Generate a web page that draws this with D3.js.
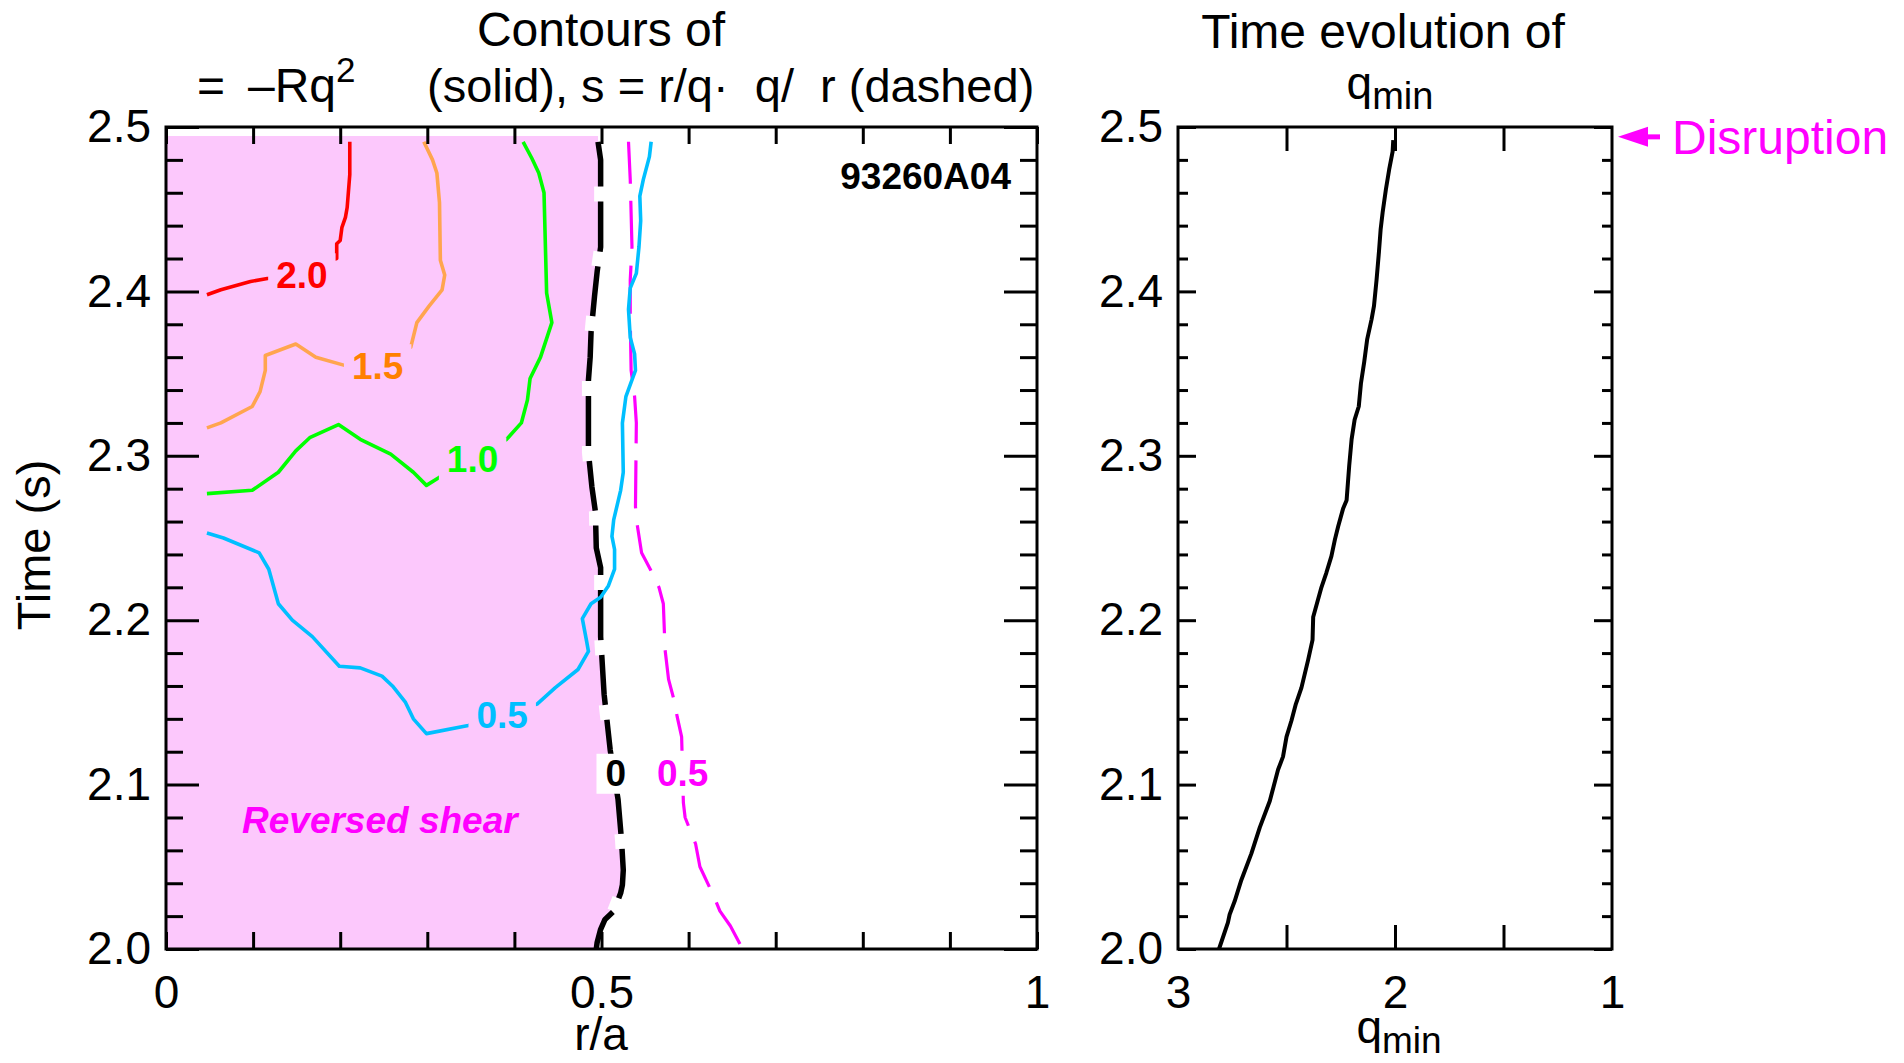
<!DOCTYPE html>
<html>
<head>
<meta charset="utf-8">
<script src="https://cdn.jsdelivr.net/npm/d3@7"></script>
<style>
  html, body { margin: 0; padding: 0; background: #fff; }
  svg text { font-family: "Liberation Sans", Arial, Helvetica, sans-serif; }
</style>
</head>
<body>
<svg id="chart" width="1904" height="1063"></svg>
<script>
// ---- tick labels ----
const timeTicks = [2.0, 2.1, 2.2, 2.3, 2.4, 2.5];
const radiusTicks = [0, 0.5, 1];
const qminTicks = [3, 2, 1];
const qminMinorTicks = [2.5, 2, 1.5];

// ---- alpha contours, [r/a, time] ----
const alpha20 = [[0.047,2.398],[0.063,2.401],[0.097,2.406],[0.118,2.408],[0.196,2.420],[0.196,2.429],[0.200,2.431],[0.202,2.439],[0.206,2.445],[0.208,2.451],[0.211,2.471],[0.211,2.491]];
const alpha15 = [[0.047,2.317],[0.063,2.320],[0.099,2.330],[0.108,2.339],[0.114,2.352],[0.114,2.361],[0.149,2.368],[0.172,2.360],[0.205,2.355],[0.281,2.366],[0.288,2.381],[0.302,2.391],[0.317,2.401],[0.320,2.410],[0.315,2.419],[0.314,2.454],[0.311,2.472],[0.306,2.480],[0.296,2.491]];
const alpha10 = [[0.047,2.277],[0.099,2.279],[0.129,2.290],[0.149,2.303],[0.165,2.311],[0.198,2.319],[0.223,2.310],[0.258,2.301],[0.284,2.290],[0.299,2.282],[0.314,2.287],[0.391,2.310],[0.408,2.320],[0.415,2.334],[0.418,2.347],[0.430,2.360],[0.443,2.381],[0.437,2.399],[0.434,2.460],[0.428,2.472],[0.420,2.481],[0.410,2.491]];
const alpha05 = [[0.047,2.253],[0.066,2.250],[0.107,2.241],[0.118,2.231],[0.129,2.210],[0.145,2.200],[0.168,2.190],[0.199,2.172],[0.223,2.171],[0.248,2.166],[0.260,2.160],[0.275,2.150],[0.284,2.140],[0.299,2.131],[0.347,2.136],[0.426,2.149],[0.447,2.159],[0.473,2.170],[0.485,2.181],[0.483,2.187],[0.478,2.201],[0.488,2.210],[0.499,2.214],[0.508,2.221],[0.515,2.231],[0.515,2.243],[0.512,2.251],[0.514,2.261],[0.522,2.279],[0.525,2.290],[0.524,2.320],[0.528,2.336],[0.539,2.352],[0.538,2.362],[0.533,2.372],[0.531,2.389],[0.533,2.402],[0.540,2.411],[0.543,2.427],[0.545,2.443],[0.544,2.458],[0.548,2.468],[0.555,2.482],[0.557,2.491]];

// ---- magnetic shear contours, [r/a, time], listed from the top down ----
const shear0 = [[0.496,2.491],[0.499,2.480],[0.499,2.427],[0.495,2.412],[0.492,2.397],[0.488,2.375],[0.487,2.360],[0.485,2.346],[0.485,2.302],[0.489,2.281],[0.493,2.266],[0.494,2.244],[0.499,2.232],[0.499,2.190],[0.503,2.155],[0.510,2.121],[0.519,2.091],[0.523,2.066],[0.525,2.048],[0.524,2.039],[0.522,2.034],[0.514,2.023],[0.504,2.018],[0.499,2.012],[0.495,2.004],[0.494,2.000]];
const shear05 = [[0.531,2.491],[0.533,2.468],[0.535,2.427],[0.533,2.407],[0.533,2.383],[0.534,2.352],[0.538,2.336],[0.540,2.320],[0.539,2.269],[0.541,2.258],[0.546,2.241],[0.556,2.231],[0.566,2.220],[0.571,2.210],[0.573,2.182],[0.577,2.164],[0.583,2.152],[0.587,2.141],[0.592,2.129],[0.594,2.089],[0.596,2.080],[0.608,2.064],[0.613,2.050],[0.629,2.032],[0.636,2.023],[0.648,2.014],[0.662,2.000]];
const reversedShearTop = 2.4945;

// ---- contour labels: text, r/a, time ----
const alphaLabels = [
  {text: "2.0", r: 0.156, t: 2.410, color: "#ff0000"},
  {text: "1.5", r: 0.243, t: 2.3547, color: "#ff8000"},
  {text: "1.0", r: 0.352, t: 2.298, color: "#00ff00"},
  {text: "0.5", r: 0.386, t: 2.1423, color: "#00bfff"}
];
const shearLabels = [
  {text: "0", r: 0.5164, t: 2.1074, color: "#000000", box: true},
  {text: "0.5", r: 0.5932, t: 2.1074, color: "#ff00ff", box: false}
];

// ---- q_min time history ----
const qminTime  = [2.000,2.016,2.021,2.029,2.042,2.058,2.074,2.090,2.109,2.117,2.129,2.139,2.149,2.159,2.176,2.188,2.202,2.220,2.229,2.239,2.249,2.257,2.268,2.273,2.294,2.310,2.322,2.330,2.344,2.357,2.371,2.383,2.391,2.407,2.424,2.438,2.448,2.462,2.474,2.485,2.492];
const qminValue = [2.811,2.770,2.762,2.739,2.708,2.662,2.623,2.577,2.539,2.516,2.500,2.477,2.457,2.431,2.400,2.380,2.377,2.339,2.316,2.293,2.277,2.262,2.239,2.223,2.211,2.200,2.186,2.167,2.157,2.142,2.128,2.108,2.097,2.085,2.074,2.066,2.057,2.042,2.027,2.011,2.008];
const disruptionTime = 2.494;

// ---- layout ----
const W = 1904, H = 1063;
const FONT = '"Liberation Sans", Arial, Helvetica, sans-serif';
const svg = d3.select("#chart");

const x = d3.scaleLinear().domain([0, 1]).range([166, 1037]);
const y = d3.scaleLinear().domain([2.0, 2.5]).range([949, 127]);
const xq = d3.scaleLinear().domain([3, 1]).range([1178, 1612]);

const minorTimes = d3.range(2.0, 2.5001, 0.02).map(v => +v.toFixed(2));
const minorRadii = d3.range(0, 1.0001, 0.1).map(v => +v.toFixed(1));

// label gap mask for the contour lines
const defs = svg.append("defs");
const gapMask = defs.append("mask").attr("id", "label-gaps")
  .attr("maskUnits", "userSpaceOnUse")
  .attr("x", 0).attr("y", 0).attr("width", W).attr("height", H);
gapMask.append("rect").attr("width", W).attr("height", H).attr("fill", "white");

const gPink = svg.append("g");
const gShear = svg.append("g");
const gAlpha = svg.append("g").attr("mask", "url(#label-gaps)");
const gQmin = svg.append("g");
const gLabels = svg.append("g");
const gAxes = svg.append("g");
const gText = svg.append("g");

const line = d3.line().x(d => x(d[0])).y(d => y(d[1]));

// reversed shear region: from the axis to the s = 0 contour
const pinkPoly = [[0, reversedShearTop], [shear0[0][0], reversedShearTop], ...shear0, [0, 2.0]];
gPink.append("path")
  .attr("d", line(pinkPoly) + "Z")
  .attr("fill", "#fcc8fc");

// s = 0 contour: white breaks under black dashes
gShear.append("path")
  .attr("d", line(shear0))
  .attr("fill", "none").attr("stroke", "#fff")
  .attr("stroke-width", 13)
  .attr("stroke-dasharray", "15 50").attr("stroke-dashoffset", 20);
gShear.append("path")
  .attr("d", line(shear0))
  .attr("fill", "none").attr("stroke", "#000")
  .attr("stroke-width", 5.5).attr("stroke-linejoin", "round")
  .attr("stroke-dasharray", "50 15").attr("stroke-dashoffset", 5);

// s = 0.5 contour
gAlpha.append("path")
  .attr("d", line(shear05))
  .attr("fill", "none").attr("stroke", "#ff00ff")
  .attr("stroke-width", 3.2).attr("stroke-linejoin", "round")
  .attr("stroke-dasharray", "48 17").attr("stroke-dashoffset", 6);

// alpha contours
const alphaSeries = [
  {pts: alpha20, color: "#ff0000"},
  {pts: alpha15, color: "#ffa54f"},
  {pts: alpha10, color: "#00ff00"},
  {pts: alpha05, color: "#00bfff"}
];
gAlpha.selectAll("path.alpha").data(alphaSeries).join("path")
  .attr("class", "alpha")
  .attr("d", d => line(d.pts))
  .attr("fill", "none")
  .attr("stroke", d => d.color)
  .attr("stroke-width", 3.6)
  .attr("stroke-linejoin", "round");

// contour labels
function addLabel(d) {
  const t = gLabels.append("text")
    .attr("x", x(d.r)).attr("y", y(d.t))
    .attr("dy", "0.36em")
    .attr("text-anchor", "middle")
    .attr("font-size", 37).attr("font-weight", "bold")
    .attr("fill", d.color)
    .text(d.text);
  const b = t.node().getBBox();
  gapMask.append("rect")
    .attr("x", b.x - 8).attr("y", b.y - 2)
    .attr("width", b.width + 16).attr("height", b.height + 4)
    .attr("fill", "black");
  if (d.box) {
    gLabels.insert("rect", "text")
      .attr("x", b.x - 9).attr("y", b.y + 1)
      .attr("width", b.width + 18).attr("height", b.height - 1)
      .attr("fill", "#fff");
  }
}
alphaLabels.forEach(addLabel);
shearLabels.forEach(addLabel);

gLabels.append("text")
  .attr("x", 242).attr("y", 833)
  .attr("font-size", 37).attr("font-weight", "bold").attr("font-style", "italic")
  .attr("fill", "#ff00ff")
  .text("Reversed shear");

gLabels.append("text")
  .attr("x", 1011).attr("y", 189)
  .attr("text-anchor", "end")
  .attr("font-size", 37).attr("font-weight", "bold")
  .attr("fill", "#000")
  .text("93260A04");

// ---- q_min panel curve ----
const qLine = d3.line().x(d => xq(d[1])).y(d => y(d[0]));
gQmin.append("path")
  .attr("d", qLine(qminTime.map((t, i) => [t, qminValue[i]])))
  .attr("fill", "none").attr("stroke", "#000")
  .attr("stroke-width", 4).attr("stroke-linejoin", "round");

// ---- axes ----
function styleAxis(g, w) {
  g.select(".domain").remove();
  g.selectAll(".tick line").attr("stroke", "#000").attr("stroke-width", w);
  g.selectAll("text").attr("font-size", 46).attr("font-family", FONT).attr("fill", "#000");
}

function framedAxes(xs, xTicksAll, xLabelTicks, xFmt, xLen, yMinorLen, yMajorLen) {
  const [x0, x1] = xs.range();
  const [y1, y0] = y.range();
  gAxes.append("g").attr("transform", `translate(0,${y1})`)
    .call(d3.axisBottom(xs).tickValues(xTicksAll).tickSize(-xLen).tickFormat(""))
    .call(g => styleAxis(g, 3));
  gAxes.append("g").attr("transform", `translate(0,${y0})`)
    .call(d3.axisTop(xs).tickValues(xTicksAll).tickSize(-xLen).tickFormat(""))
    .call(g => styleAxis(g, 3));
  gAxes.append("g").attr("transform", `translate(0,${y1})`)
    .call(d3.axisBottom(xs).tickValues(xLabelTicks).tickSize(0).tickPadding(26).tickFormat(xFmt))
    .call(g => styleAxis(g, 0));
  const minor = minorTimes.filter(v => !timeTicks.includes(v));
  gAxes.append("g").attr("transform", `translate(${x0},0)`)
    .call(d3.axisLeft(y).tickValues(minor).tickSize(-yMinorLen).tickFormat(""))
    .call(g => styleAxis(g, 3));
  gAxes.append("g").attr("transform", `translate(${x1},0)`)
    .call(d3.axisRight(y).tickValues(minor).tickSize(-yMinorLen).tickFormat(""))
    .call(g => styleAxis(g, 3));
  gAxes.append("g").attr("transform", `translate(${x0},0)`)
    .call(d3.axisLeft(y).tickValues(timeTicks).tickSize(-yMajorLen).tickPadding(15).tickFormat(d3.format(".1f")))
    .call(g => styleAxis(g, 3));
  gAxes.append("g").attr("transform", `translate(${x1},0)`)
    .call(d3.axisRight(y).tickValues(timeTicks).tickSize(-yMajorLen).tickFormat(""))
    .call(g => styleAxis(g, 3));
  gAxes.append("rect")
    .attr("x", x0).attr("y", y0).attr("width", x1 - x0).attr("height", y1 - y0)
    .attr("fill", "none").attr("stroke", "#000").attr("stroke-width", 3);
}

framedAxes(x, minorRadii, radiusTicks, d => d3.format("~g")(d), 17, 17, 33);
framedAxes(xq, qminMinorTicks, qminTicks, d => d3.format("d")(d), 24, 10, 18);

// ---- titles and axis names ----
gText.append("text")
  .attr("x", 601).attr("y", 46).attr("text-anchor", "middle")
  .attr("font-size", 48).text("Contours of");

const sub = gText.append("text")
  .attr("y", 102).attr("font-size", 47).style("white-space", "pre");
sub.append("tspan").attr("x", 197).attr("font-size", 48).text("=");
sub.append("tspan").attr("x", 248).attr("font-size", 48).text("\u2013Rq");
sub.append("tspan").attr("font-size", 35).attr("dy", -20).text("2");
sub.append("tspan").attr("x", 427).attr("dy", 20).text("(solid), s = r/q\u00b7  q/  r (dashed)");

gText.append("text")
  .attr("x", 1383).attr("y", 48).attr("text-anchor", "middle")
  .attr("font-size", 48).text("Time evolution of");
const qt = gText.append("text")
  .attr("x", 1390).attr("y", 99).attr("text-anchor", "middle").attr("font-size", 46);
qt.append("tspan").text("q");
qt.append("tspan").attr("font-size", 38).attr("dy", 10).text("min");

gText.append("text")
  .attr("x", 601).attr("y", 1050).attr("text-anchor", "middle")
  .attr("font-size", 46).text("r/a");
const qx = gText.append("text")
  .attr("x", 1399).attr("y", 1043).attr("text-anchor", "middle").attr("font-size", 46);
qx.append("tspan").text("q");
qx.append("tspan").attr("font-size", 37).attr("dy", 10).text("min");

gText.append("text")
  .attr("transform", `translate(50,545) rotate(-90)`)
  .attr("text-anchor", "middle").attr("font-size", 47).text("Time (s)");

// disruption marker
const yd = y(disruptionTime);
const tipX = xq(1) + 6;
gText.append("path")
  .attr("d", `M${tipX},${yd} L${tipX + 30},${yd - 10} L${tipX + 30},${yd + 10} Z`)
  .attr("fill", "#ff00ff");
gText.append("line")
  .attr("x1", tipX + 24).attr("x2", tipX + 42).attr("y1", yd).attr("y2", yd)
  .attr("stroke", "#ff00ff").attr("stroke-width", 5);
gText.append("text")
  .attr("x", 1672).attr("y", yd + 17)
  .attr("font-size", 48).attr("fill", "#ff00ff").text("Disruption");
</script>
</body>
</html>
